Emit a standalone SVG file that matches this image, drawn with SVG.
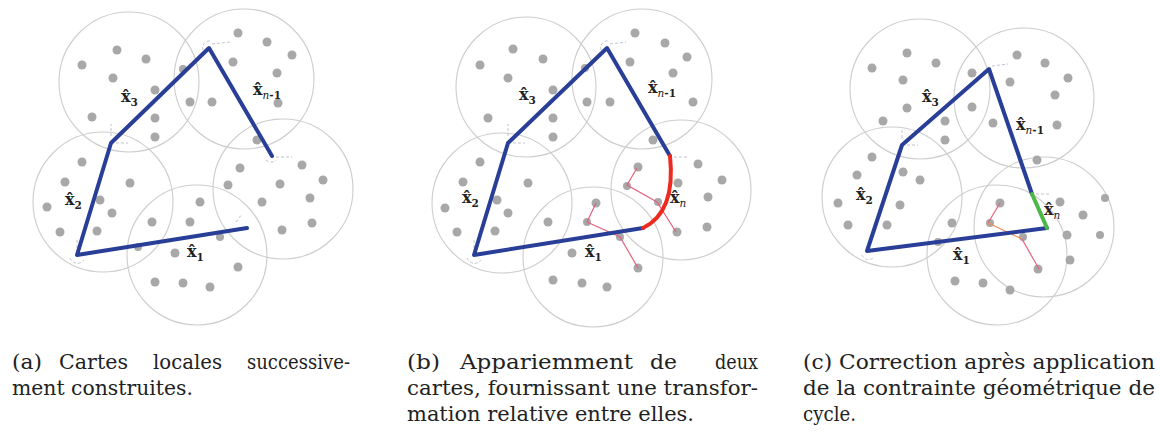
<svg xmlns="http://www.w3.org/2000/svg" width="1160" height="439" viewBox="0 0 1160 439">
<style>
.c{fill:none;stroke:#cdcdcd;stroke-width:1.1}
.d{fill:#a8a8a8}
.blue{fill:none;stroke:#283e97;stroke-width:4;stroke-linejoin:round;stroke-linecap:round}
.red{fill:none;stroke:#ec2a20;stroke-width:4;stroke-linecap:round}
.grn{fill:none;stroke:#4cb848;stroke-width:4;stroke-linecap:round}
.pk{fill:none;stroke:#e2627c;stroke-width:1.2}
.or{fill:none;stroke:#ef8a5a;stroke-width:1.2}
.fr{fill:none;stroke:#b9bccb;stroke-width:0.9;stroke-dasharray:3 2}
.lb{font-family:"DejaVu Serif","Liberation Serif",serif;font-size:16px;font-weight:bold;fill:#222}
.sb{font-size:10.5px}
.it{font-style:italic;font-weight:normal}
.cap{font-family:"DejaVu Serif","Liberation Serif",serif;font-size:21px;fill:#222}
</style>

<g id="panel-a">
  <g id="a-circles">
    <circle class="c" cx="129" cy="82" r="70"/>
    <circle class="c" cx="244" cy="79" r="70"/>
    <circle class="c" cx="103" cy="202" r="70"/>
    <circle class="c" cx="197" cy="255" r="70"/>
    <circle class="c" cx="283" cy="189" r="70"/>
  </g>
  <g id="a-dots" class="d">
    <circle cx="117" cy="50" r="4.5"/><circle cx="82" cy="65" r="4.5"/><circle cx="146" cy="59" r="4.5"/>
    <circle cx="113" cy="78" r="4.5"/><circle cx="155" cy="90" r="4.5"/><circle cx="92" cy="117" r="4.5"/>
    <circle cx="155" cy="118" r="4.5"/><circle cx="155" cy="137" r="4.5"/>
    <circle cx="238" cy="33" r="4.5"/><circle cx="267" cy="42" r="4.5"/><circle cx="292" cy="55" r="4.5"/>
    <circle cx="233" cy="62" r="4.5"/><circle cx="277" cy="73" r="4.5"/><circle cx="190" cy="102" r="4.5"/>
    <circle cx="212" cy="102" r="4.5"/><circle cx="278" cy="103" r="4.5"/><circle cx="257" cy="140" r="4.5"/>
    <circle cx="183" cy="69" r="4"/>
    <circle cx="240" cy="168" r="4.5"/><circle cx="302" cy="165" r="4.5"/><circle cx="323" cy="180" r="4.5"/>
    <circle cx="228" cy="185" r="4.5"/><circle cx="280" cy="184" r="4.5"/><circle cx="262" cy="202" r="4.5"/>
    <circle cx="310" cy="198" r="4.5"/><circle cx="282" cy="230" r="4.5"/><circle cx="312" cy="223" r="4.5"/>
    <circle cx="82" cy="162" r="4.5"/><circle cx="65" cy="182" r="4.5"/><circle cx="130" cy="183" r="4.5"/>
    <circle cx="100" cy="200" r="4.5"/><circle cx="47" cy="207" r="4.5"/><circle cx="112" cy="213" r="4.5"/>
    <circle cx="60" cy="232" r="4.5"/><circle cx="97" cy="231" r="4.5"/>
    <circle cx="200" cy="202" r="4.5"/><circle cx="190" cy="222" r="4.5"/><circle cx="152" cy="222" r="4.5"/>
    <circle cx="220" cy="237" r="4"/><circle cx="175" cy="253" r="4.5"/><circle cx="238" cy="267" r="4.5"/>
    <circle cx="155" cy="282" r="4.5"/><circle cx="183" cy="283" r="4.5"/><circle cx="210" cy="287" r="4.5"/>
    <circle cx="138" cy="247" r="4"/>
  </g>
  <g id="a-frames" class="fr">
    <path d="M212 44 L230 42"/><path d="M203 50 a7 7 0 0 1 8 -9"/>
    <path d="M276 157 L292 157"/><path d="M266 160 a7 7 0 0 0 10 0"/>
    <path d="M111 136 L111 124"/><path d="M116 143 L128 143"/>
    <path d="M77 248 L77 238"/><path d="M70 258 a8 8 0 0 0 14 2"/>
    <path d="M236 222 L242 214"/>
  </g>
  <g id="a-path">
    <polyline class="blue" points="247,228 77,255 111,143 209,48 272,156"/>
  </g>
  <g id="a-labels">
    <text class="lb" x="121" y="102">x̂<tspan class="sb" dy="4">3</tspan></text>
    <text class="lb" x="253" y="95">x̂<tspan class="sb" dy="4"><tspan class="it">n</tspan>-1</tspan></text>
    <text class="lb" x="65" y="205">x̂<tspan class="sb" dy="4">2</tspan></text>
    <text class="lb" x="187" y="257">x̂<tspan class="sb" dy="4">1</tspan></text>
  </g>
</g>

<g id="panel-b">
  <g id="b-circles">
    <circle class="c" cx="526" cy="87" r="70"/>
    <circle class="c" cx="642" cy="79" r="70"/>
    <circle class="c" cx="502" cy="203" r="70"/>
    <circle class="c" cx="593" cy="257" r="70"/>
    <circle class="c" cx="681" cy="190" r="70"/>
  </g>
  <g id="b-dots" class="d">
    <circle cx="513" cy="49" r="4.5"/><circle cx="480" cy="65" r="4.5"/><circle cx="543" cy="59" r="4.5"/>
    <circle cx="508" cy="78" r="4.5"/><circle cx="553" cy="90" r="4.5"/><circle cx="488" cy="118" r="4.5"/>
    <circle cx="553" cy="118" r="4.5"/><circle cx="553" cy="137" r="4.5"/><circle cx="585" cy="68" r="4"/>
    <circle cx="635" cy="33" r="4.5"/><circle cx="665" cy="43" r="4.5"/><circle cx="687" cy="57" r="4.5"/>
    <circle cx="630" cy="62" r="4.5"/><circle cx="673" cy="73" r="4.5"/><circle cx="587" cy="102" r="4.5"/>
    <circle cx="610" cy="102" r="4.5"/><circle cx="693" cy="102" r="4.5"/><circle cx="653" cy="140" r="4.5"/>
    <circle cx="638" cy="167" r="4.5"/><circle cx="698" cy="164" r="4.5"/><circle cx="722" cy="180" r="4.5"/>
    <circle cx="627" cy="186" r="4"/><circle cx="678" cy="183" r="4.5"/><circle cx="708" cy="197" r="4.5"/>
    <circle cx="658" cy="202" r="4"/><circle cx="677" cy="232" r="4.5"/><circle cx="707" cy="227" r="4.5"/>
    <circle cx="480" cy="162" r="4.5"/><circle cx="463" cy="182" r="4.5"/><circle cx="528" cy="183" r="4.5"/>
    <circle cx="497" cy="200" r="4.5"/><circle cx="445" cy="208" r="4.5"/><circle cx="508" cy="213" r="4.5"/>
    <circle cx="457" cy="232" r="4.5"/><circle cx="495" cy="231" r="4.5"/>
    <circle cx="596" cy="203" r="4.5"/><circle cx="587" cy="222" r="4"/><circle cx="548" cy="222" r="4.5"/>
    <circle cx="620" cy="237" r="4"/><circle cx="572" cy="253" r="4.5"/><circle cx="638" cy="268" r="4.5"/>
    <circle cx="553" cy="280" r="4.5"/><circle cx="582" cy="283" r="4.5"/><circle cx="607" cy="287" r="4.5"/>
  </g>
  <g id="b-frames" class="fr">
    <path d="M610 44 L626 42"/><path d="M601 50 a7 7 0 0 1 8 -9"/>
    <path d="M674 157 L688 157"/>
    <path d="M508 136 L508 124"/><path d="M513 143 L525 143"/>
    <path d="M474 248 L474 238"/><path d="M467 258 a8 8 0 0 0 14 2"/>
  </g>
  <g id="b-matches">
    <polyline class="pk" points="637,168 627,185 657,202 676,232"/>
    <polyline class="pk" points="596,203 587,222 620,237 638,268"/>
  </g>
  <g id="b-path">
    <polyline class="blue" points="643,228 474,255 508,143 607,48 670,156"/>
    <path class="red" d="M670 156 Q676 212 643 228"/>
  </g>
  <g id="b-labels">
    <text class="lb" x="519" y="100">x̂<tspan class="sb" dy="4">3</tspan></text>
    <text class="lb" x="648" y="93">x̂<tspan class="sb" dy="4"><tspan class="it">n</tspan>-1</tspan></text>
    <text class="lb" x="462" y="203">x̂<tspan class="sb" dy="4">2</tspan></text>
    <text class="lb" x="585" y="257">x̂<tspan class="sb" dy="4">1</tspan></text>
    <text class="lb" x="670" y="203">x̂<tspan class="sb it" dy="4">n</tspan></text>
  </g>
</g>

<g id="panel-c">
  <g id="c-circles">
    <circle class="c" cx="920" cy="89" r="70"/>
    <circle class="c" cx="1024" cy="98" r="70"/>
    <circle class="c" cx="892" cy="197" r="70"/>
    <circle class="c" cx="997" cy="255" r="70"/>
    <circle class="c" cx="1044" cy="227" r="70"/>
  </g>
  <g id="c-dots" class="d">
    <circle cx="907" cy="53" r="4.5"/><circle cx="872" cy="68" r="4.5"/><circle cx="936" cy="63" r="4.5"/>
    <circle cx="903" cy="80" r="4.5"/><circle cx="907" cy="108" r="4.5"/><circle cx="883" cy="121" r="4.5"/>
    <circle cx="945" cy="121" r="4.5"/><circle cx="945" cy="140" r="4.5"/><circle cx="972" cy="73" r="4.5"/>
    <circle cx="1017" cy="55" r="4.5"/><circle cx="1045" cy="63" r="4.5"/><circle cx="1068" cy="78" r="4.5"/>
    <circle cx="1010" cy="82" r="4.5"/><circle cx="1055" cy="95" r="4.5"/><circle cx="972" cy="107" r="4.5"/>
    <circle cx="993" cy="123" r="4.5"/><circle cx="1057" cy="125" r="4.5"/><circle cx="1037" cy="160" r="4.5"/>
    <circle cx="1060" cy="202" r="4.5"/><circle cx="1083" cy="215" r="4.5"/><circle cx="1067" cy="235" r="4.5"/>
    <circle cx="1070" cy="260" r="4.5"/><circle cx="1105" cy="198" r="4"/><circle cx="1100" cy="235" r="4"/>
    <circle cx="872" cy="157" r="4.5"/><circle cx="857" cy="175" r="4.5"/><circle cx="920" cy="180" r="4.5"/>
    <circle cx="903" cy="172" r="4.5"/><circle cx="838" cy="203" r="4.5"/><circle cx="900" cy="205" r="4.5"/>
    <circle cx="848" cy="225" r="4.5"/><circle cx="887" cy="225" r="4.5"/>
    <circle cx="1000" cy="203" r="4.5"/><circle cx="990" cy="223" r="4"/><circle cx="952" cy="223" r="4.5"/>
    <circle cx="1023" cy="237" r="4"/><circle cx="955" cy="281" r="4.5"/><circle cx="983" cy="283" r="4.5"/>
    <circle cx="1010" cy="290" r="4.5"/><circle cx="1038" cy="269" r="4.5"/><circle cx="938" cy="242" r="4"/>
  </g>
  <g id="c-frames" class="fr">
    <path d="M992 66 L1008 64"/>
    <path d="M1036 194 L1050 194"/>
    <path d="M902 138 L902 128"/><path d="M907 145 L918 145"/>
    <path d="M862 255 a7 7 0 0 0 12 2"/>
  </g>
  <g id="c-matches">
    <polyline class="pk" points="1000,203 988,223"/>
    <polyline class="or" points="988,223 1022,239"/>
    <polyline class="pk" points="1022,239 1039,269"/>
  </g>
  <g id="c-path">
    <polyline class="blue" points="1047,228 867,251 902,145 989,69 1032,194"/>
    <line class="grn" x1="1032" y1="194" x2="1047" y2="228"/>
  </g>
  <g id="c-labels">
    <text class="lb" x="922" y="102">x̂<tspan class="sb" dy="4">3</tspan></text>
    <text class="lb" x="1016" y="130">x̂<tspan class="sb" dy="4"><tspan class="it">n</tspan>-1</tspan></text>
    <text class="lb" x="856" y="200">x̂<tspan class="sb" dy="4">2</tspan></text>
    <text class="lb" x="953" y="260">x̂<tspan class="sb" dy="4">1</tspan></text>
    <text class="lb" x="1044" y="215">x̂<tspan class="sb it" dy="4">n</tspan></text>
  </g>
</g>

<g id="captions" class="cap">
  <text x="12" y="369" textLength="30" lengthAdjust="spacingAndGlyphs">(a)</text>
  <text x="59" y="369" textLength="69" lengthAdjust="spacingAndGlyphs">Cartes</text>
  <text x="153" y="369" textLength="69" lengthAdjust="spacingAndGlyphs">locales</text>
  <text x="247" y="369" textLength="103" lengthAdjust="spacingAndGlyphs">successive-</text>
  <text x="12" y="395" textLength="181" lengthAdjust="spacingAndGlyphs">ment construites.</text>
  <text x="407" y="369" textLength="33" lengthAdjust="spacingAndGlyphs">(b)</text>
  <text x="460" y="369" textLength="173" lengthAdjust="spacingAndGlyphs">Appariemment</text>
  <text x="650" y="369" textLength="27" lengthAdjust="spacingAndGlyphs">de</text>
  <text x="715" y="369" textLength="43" lengthAdjust="spacingAndGlyphs">deux</text>
  <text x="407" y="395" textLength="351" lengthAdjust="spacingAndGlyphs">cartes, fournissant une transfor-</text>
  <text x="407" y="421" textLength="287" lengthAdjust="spacingAndGlyphs">mation relative entre elles.</text>
  <text x="803" y="369" textLength="352" lengthAdjust="spacingAndGlyphs">(c) Correction après application</text>
  <text x="803" y="395" textLength="352" lengthAdjust="spacingAndGlyphs">de la contrainte géométrique de</text>
  <text x="803" y="421" textLength="53" lengthAdjust="spacingAndGlyphs">cycle.</text>
</g>
</svg>
